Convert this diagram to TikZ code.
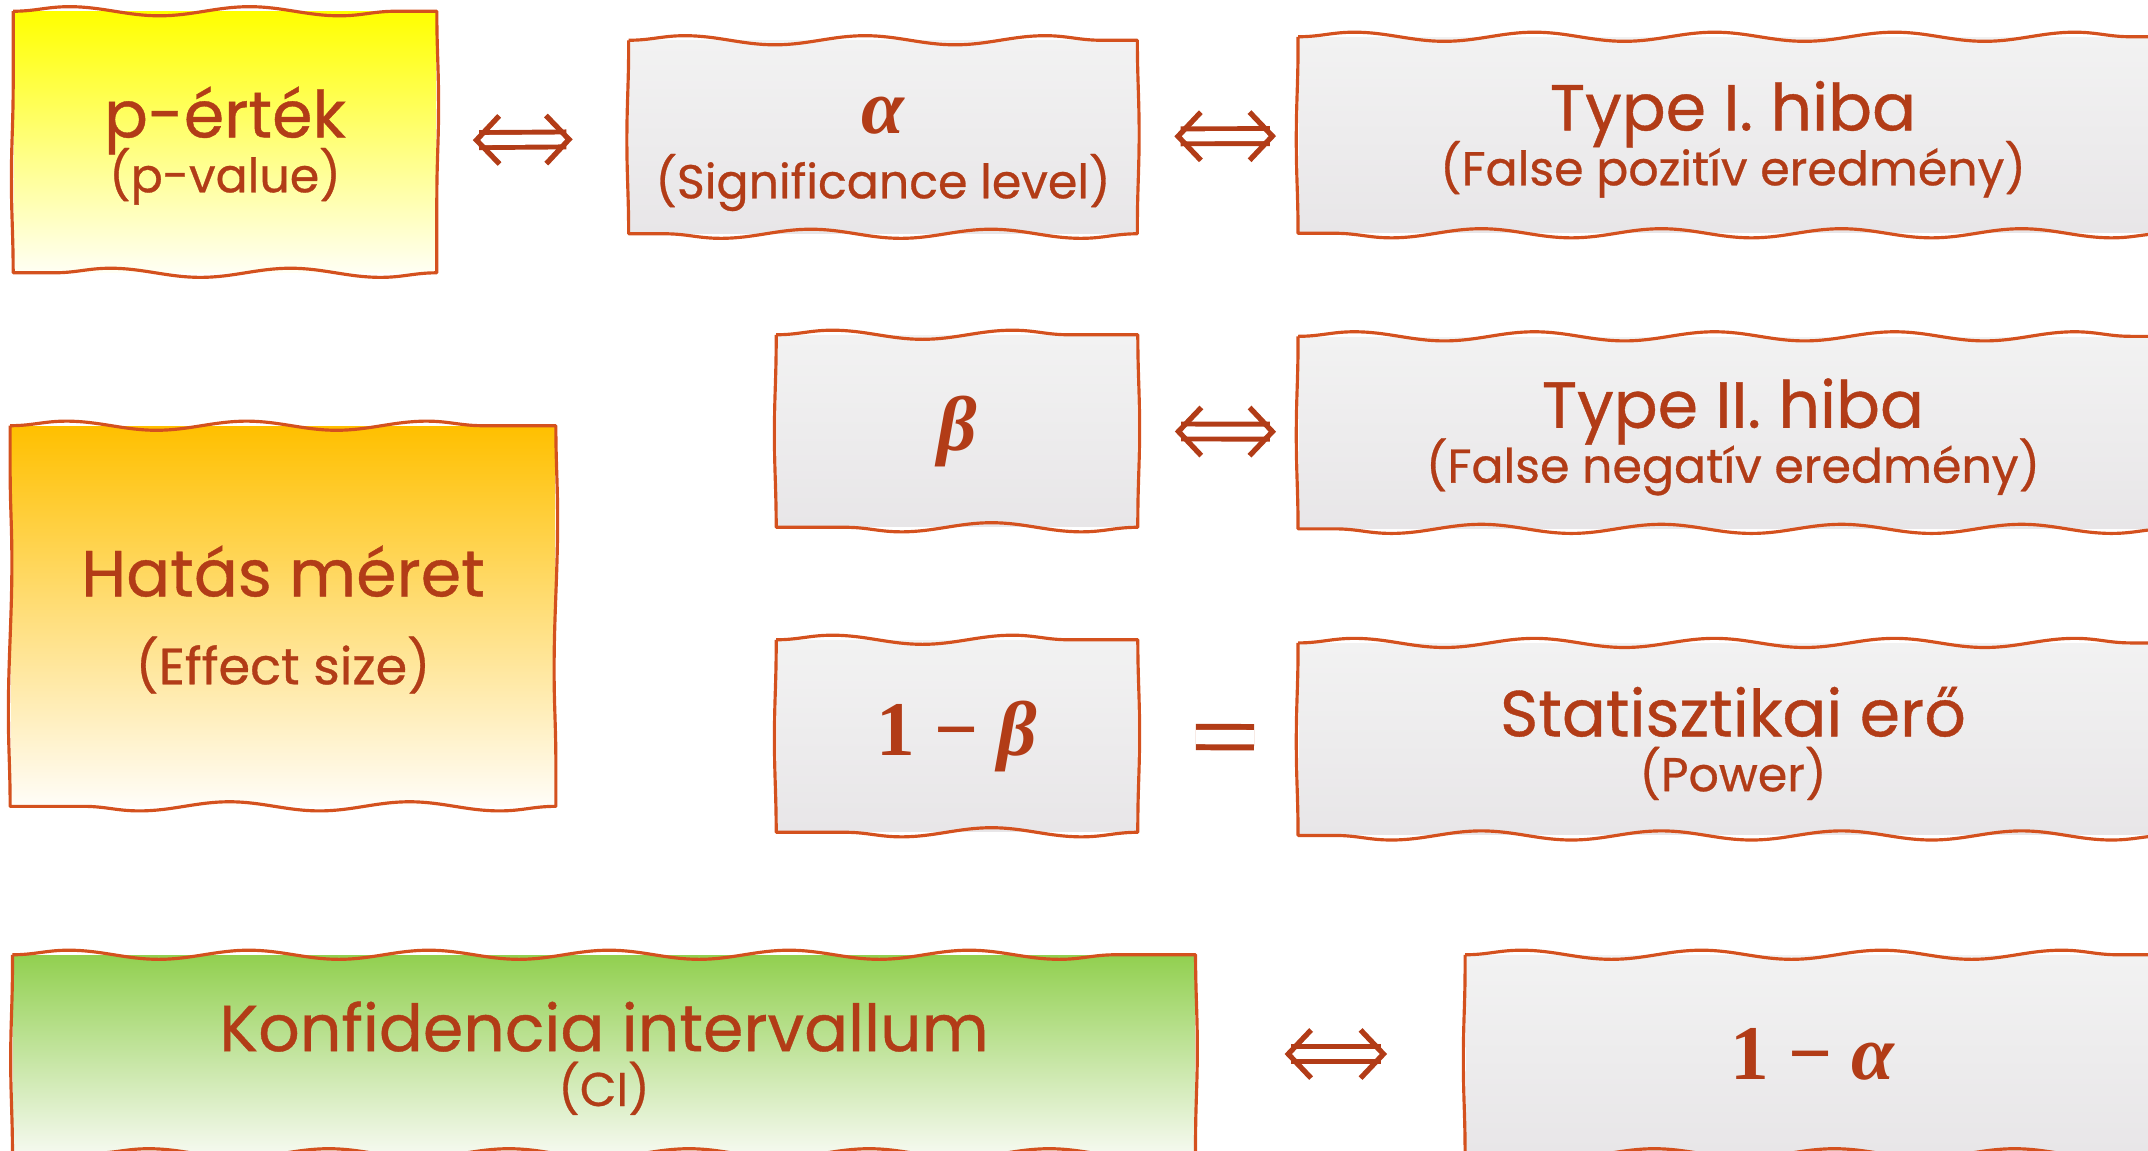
\documentclass[tikz,border=0pt]{standalone}
\usepackage{amsmath}
\usepackage[no-math]{fontspec}
\setmainfont{Poppins}[FakeBold=0.6]
\newfontfamily\greekserif{Liberation Serif}
\usepackage{tikz}
\usetikzlibrary{arrows.meta,positioning,decorations.pathmorphing}
\definecolor{EdgeRed}{HTML}{D4511E}
\definecolor{InkBrown}{HTML}{B23C17}
\definecolor{GreyTop}{HTML}{F2F2F2}
\definecolor{GreyBot}{HTML}{E8E6E8}
\definecolor{PvTop}{HTML}{FFFF00}
\definecolor{PvBot}{HTML}{FFFFF4}
\definecolor{EfTop}{HTML}{FFC000}
\definecolor{EfMid}{HTML}{F2DDA6}
\definecolor{EfBot}{HTML}{FFFDF8}
\definecolor{CiTop}{HTML}{92D050}
\definecolor{CiMid}{HTML}{C6DFA9}
\definecolor{CiBot}{HTML}{F5F9EF}
\newcommand{\headtxt}{\fontsize{18.5pt}{16pt}\selectfont\rule{0pt}{16.5pt}}
\newcommand{\subtxt}{\fontsize{13.5pt}{16pt}\selectfont}
\newcommand{\symtxt}{\greekserif\fontsize{22pt}{26pt}\selectfont\bfseries}

\begin{document}
\begin{tikzpicture}[x=0.01cm,y=-0.01cm,
  card/.style={inner sep=0pt,align=center,text=InkBrown,
    font={\baselineskip=15.6pt\lineskiplimit=-40pt}},
  greycard/.style={card,top color=GreyTop,bottom color=GreyBot},
  edge/.style={draw=EdgeRed,line width=0.9pt,line join=round},
  wave/.style={decoration={snake,amplitude=1.3pt,segment length=1.8cm}},
  wobble/.style={decoration={snake,amplitude=0.5pt,segment length=3cm}},
  iff/.style={draw=InkBrown,double,double distance=2.85pt,line width=1.4pt,
    {Straight Barb[length=6.5pt,width=13.7pt,line width=1.5pt]}-{Straight Barb[length=6.5pt,width=13.7pt,line width=1.5pt]}},
  eqbar/.style={draw=InkBrown,double,double distance=4.1pt,line width=1.7pt}]
\useasboundingbox (0,0) rectangle (2148,1150);
\clip (0,0) rectangle (2148,1150);

% left column
\node[card,top color=PvTop,bottom color=PvBot,minimum width=4.22cm,minimum height=2.6cm] (pval) at (225,142)
  {\headtxt p-érték\\\subtxt (p-value)};
\node[card,top color=EfTop,middle color=EfMid,bottom color=EfBot,minimum width=5.44cm,minimum height=3.79cm] (effect) at (283,616)
  {\headtxt Hatás méret\\[9.4pt]\fontsize{14.5pt}{16pt}\selectfont (Effect size)};
\node[card,top color=CiTop,middle color=CiMid,bottom color=CiBot,minimum width=11.81cm,minimum height=1.97cm] (ci) at (604,1054)
  {\headtxt Konfidencia intervallum\\\subtxt (CI)};

% middle column
\node[greycard,minimum width=5.07cm,minimum height=1.92cm] (alpha) at (883,137)
  {\symtxt\rule{0pt}{20pt}\itshape α\\[2.9pt]\subtxt (Significance level)};
\node[greycard,minimum width=3.6cm,minimum height=1.91cm] (beta) at (957,431)
  {\symtxt\itshape β};
\node[greycard,minimum width=3.6cm,minimum height=1.91cm] (onebeta) at (957,736)
  {\symtxt 1 − \textit{β}};

% right column
\node[greycard,minimum width=8.68cm,minimum height=1.95cm] (type1) at (1733,135)
  {\headtxt Type I. hiba\\\subtxt (False pozitív eredmény)};
\node[greycard,minimum width=8.68cm,minimum height=1.91cm,below=1.03cm of type1] (type2)
  {\headtxt Type II. hiba\\\subtxt (False negatív eredmény)};
\node[greycard,minimum width=8.68cm,minimum height=1.91cm,below=1.14cm of type2] (power)
  {\headtxt Statisztikai erő\\\subtxt (Power)};
\node[greycard,minimum width=6.94cm,minimum height=1.97cm] (onealpha) at (1813,1054)
  {\symtxt 1 − \textit{α}};

% hand drawn borders
\foreach \b in {pval,effect,ci,alpha,beta,onebeta,type1,type2,power,onealpha}
  \draw[edge] (\b.north west) decorate[wave]{-- (\b.north east)}
    decorate[wobble]{-- (\b.south east)} decorate[wave]{-- (\b.south west)}
    decorate[wobble]{-- (\b.north west)};

% links
\draw[iff,shorten <=0.36cm,shorten >=0.56cm] (pval) -- (alpha);
\draw[iff,shorten <=0.37cm,shorten >=0.22cm] (alpha) -- (type1);
\draw[iff,shorten <=0.37cm,shorten >=0.22cm] (beta) -- (type2);
\draw[eqbar,shorten <=0.58cm,shorten >=0.44cm] (onebeta) -- (power);
\draw[iff,shorten <=0.89cm,shorten >=0.78cm] (ci) -- (onealpha);
\end{tikzpicture}
\end{document}
